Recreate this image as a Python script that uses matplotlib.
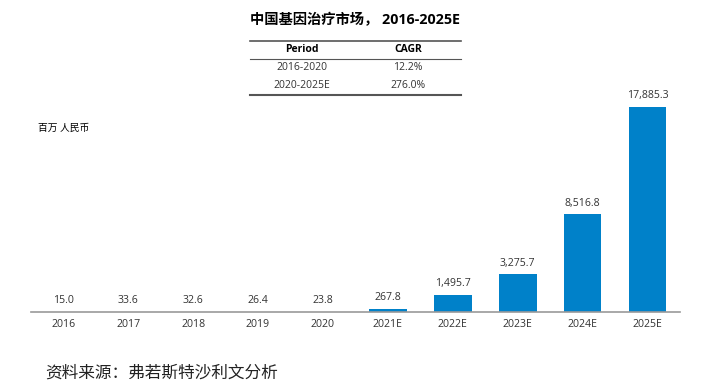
import matplotlib.pyplot as plt
import numpy as np

plt.rcParams["font.family"] = ["Open Sans", "Noto Sans CJK SC", "DejaVu Sans"]

years = ["2016", "2017", "2018", "2019", "2020", "2021E", "2022E", "2023E", "2024E", "2025E"]
market = [15.0, 33.6, 32.6, 26.4, 23.8, 267.8, 1495.7, 3275.7, 8516.8, 17885.3]
periods = ["2016-2020", "2020-2025E"]
cagr = ["12.2%", "276.0%"]

fig = plt.figure(figsize=(7.18, 3.89), dpi=100)
ax = fig.add_axes([0.043, 0.198, 0.904, 0.527])

x = np.arange(len(years))
ax.bar(x, market, width=0.58, color="#0081C9")
for xi, v in zip(x, market):
    ax.annotate(f"{v:,.1f}", (xi, v), xytext=(0, 4), textcoords="offset points",
                ha="center", va="bottom", fontsize=7.6, color="#333333",
                annotation_clip=False)

ax.set_xlim(-0.5, len(years) - 0.5)
ax.set_ylim(0, max(market))
ax.set_xticks(x, years, fontsize=7.6, color="#333333")
ax.tick_params(axis="x", length=0, pad=5)
ax.set_yticks([])
for side in ["top", "right", "left"]:
    ax.spines[side].set_visible(False)
ax.spines["bottom"].set_color("#999999")
ax.spines["bottom"].set_linewidth(1.2)

# title and CAGR table
fig.text(355 / 718, 1 - 20 / 389, "中国基因治疗市场， 2016-2025E", ha="center", va="center",
         fontsize=10.3, fontweight="bold")
x0, x1 = 250 / 718, 461 / 718
fig.add_artist(plt.Line2D([x0, x1], [1 - 41 / 389] * 2, color="#555555", lw=1.2))
fig.add_artist(plt.Line2D([x0, x1], [1 - 59 / 389] * 2, color="#555555", lw=0.8))
fig.add_artist(plt.Line2D([x0, x1], [1 - 95 / 389] * 2, color="#555555", lw=1.5))
fig.text(302 / 718, 1 - 50 / 389, "Period", ha="center", va="center", fontsize=7.5, fontweight="bold")
fig.text(408 / 718, 1 - 50 / 389, "CAGR", ha="center", va="center", fontsize=7.5, fontweight="bold")
for i, (p, c) in enumerate(zip(periods, cagr)):
    yy = 1 - (68 + 18 * i) / 389
    fig.text(302 / 718, yy, p, ha="center", va="center", fontsize=7.5, color="#333333")
    fig.text(408 / 718, yy, c, ha="center", va="center", fontsize=7.5, color="#333333")

fig.text(38 / 718, 1 - 128 / 389, "百万 人民币", ha="left", va="center", fontsize=7)
fig.text(45 / 718, 1 - 374 / 389, "资料来源：弗若斯特沙利文分析", ha="left", va="center",
         fontsize=12, fontweight="light", color="#222222")

fig.savefig("out.png", dpi=100)
